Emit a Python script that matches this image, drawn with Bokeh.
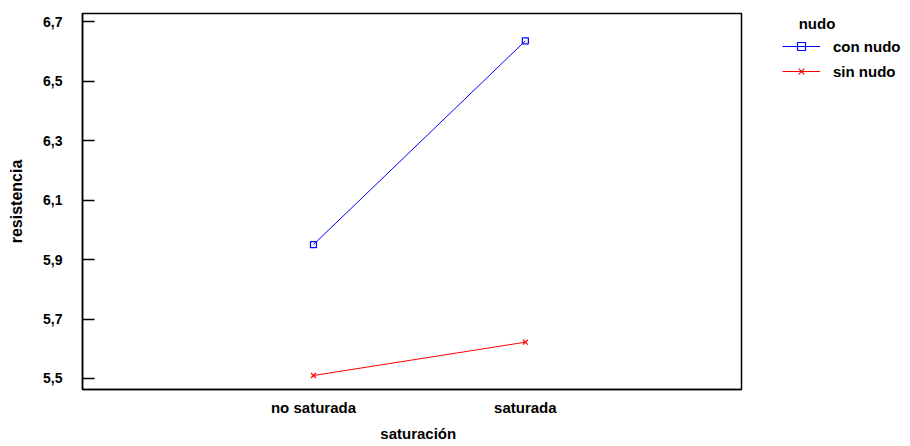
from bokeh.plotting import figure
from bokeh.layouts import row
from bokeh.models import Range1d, FixedTicker, Legend, LegendItem
from bokeh.embed import file_html
from bokeh.resources import INLINE

categories = ["no saturada", "saturada"]
x_pos = [1, 2]
con_nudo = [5.95, 6.635]
sin_nudo = [5.51, 5.622]
y_ticks = [5.5, 5.7, 5.9, 6.1, 6.3, 6.5, 6.7]
y_tick_labels = ["5,5", "5,7", "5,9", "6,1", "6,3", "6,5", "6,7"]
series_names = ["con nudo", "sin nudo"]
legend_title = "nudo"

FONT = "Liberation Sans"

p = figure(frame_width=659, frame_height=376, output_backend="svg", toolbar_location=None,
           x_range=Range1d(-0.09, 3.02), y_range=Range1d(5.463, 6.727),
           min_border_left=82, min_border_top=13, min_border_right=20,
           min_border_bottom=57)

p.grid.visible = False
p.outline_line_color = "black"
p.outline_line_width = 1.5
p.background_fill_color = "white"
p.border_fill_color = "white"

p.line(x_pos, con_nudo, line_color="blue", line_width=1)
p.scatter(x_pos, con_nudo, marker="square", size=6, line_color="blue",
          fill_color=None, line_width=1.2)
p.line(x_pos, sin_nudo, line_color="red", line_width=1)
p.scatter(x_pos, sin_nudo, marker="x", size=7, line_color="red", line_width=1.2)

# axes
for ax in (p.xaxis, p.yaxis):
    ax.axis_line_color = "black"
    ax.major_tick_line_color = "black"
    ax.major_label_text_color = "black"
    ax.axis_label_text_color = "black"
    ax.minor_tick_line_color = None

p.yaxis.ticker = FixedTicker(ticks=y_ticks)
p.yaxis.major_label_overrides = {t: l for t, l in zip(y_ticks, y_tick_labels)}
p.yaxis.major_tick_in = 12
p.yaxis.major_tick_out = 0
p.yaxis.axis_line_width = 1.5
p.yaxis.major_tick_line_width = 1.5
p.yaxis.major_label_text_font = FONT
p.yaxis.major_label_text_font_style = "bold"
p.yaxis.major_label_text_font_size = "14px"
p.yaxis.major_label_standoff = 20
p.yaxis.axis_label = "resistencia"
p.yaxis.axis_label_text_font = FONT
p.yaxis.axis_label_text_font_style = "bold"
p.yaxis.axis_label_text_font_size = "16px"
p.yaxis.axis_label_standoff = 15

p.xaxis.ticker = FixedTicker(ticks=x_pos)
p.xaxis.major_label_overrides = {x: c for x, c in zip(x_pos, categories)}
p.xaxis.major_tick_in = 0
p.xaxis.major_tick_out = 0
p.xaxis.axis_line_width = 1.5
p.xaxis.major_label_text_font = FONT
p.xaxis.major_label_text_font_style = "bold"
p.xaxis.major_label_text_font_size = "15px"
p.xaxis.major_label_standoff = 9
p.xaxis.axis_label = "\u00a0\u00a0\u00a0saturación"
p.xaxis.axis_label_text_font = FONT
p.xaxis.axis_label_text_font_style = "bold"
p.xaxis.axis_label_text_font_size = "15px"
p.xaxis.axis_label_standoff = 6

# legend panel (series drawn out of its visible range, only the legend shows)
p2 = figure(width=149, height=446, output_backend="svg", toolbar_location=None,
            x_range=Range1d(0, 1), y_range=Range1d(0, 1),
            x_axis_type=None, y_axis_type=None,
            min_border_left=0, min_border_right=0, min_border_top=0, min_border_bottom=0)
p2.grid.visible = False
p2.outline_line_color = None
p2.background_fill_color = "white"
p2.border_fill_color = "white"

l1 = p2.line(x_pos, con_nudo, line_color="blue", line_width=1)
m1 = p2.scatter(x_pos, con_nudo, marker="square", size=6, line_color="blue",
                fill_color=None, line_width=1.2)
l2 = p2.line(x_pos, sin_nudo, line_color="red", line_width=1)
m2 = p2.scatter(x_pos, sin_nudo, marker="x", size=7, line_color="red", line_width=1.2)

legend = Legend(items=[LegendItem(label=series_names[0], renderers=[l1, m1]),
                       LegendItem(label=series_names[1], renderers=[l2, m2])],
                title="\u00a0\u00a0\u00a0\u00a0" + legend_title, location=(21, 308))
legend.title_text_font = FONT
legend.title_text_font_style = "bold"
legend.title_text_font_size = "15px"
legend.title_text_color = "black"
legend.label_text_font = FONT
legend.label_text_font_style = "bold"
legend.label_text_font_size = "15px"
legend.label_text_color = "black"
legend.border_line_color = None
legend.background_fill_alpha = 0
legend.glyph_width = 38
legend.glyph_height = 20
legend.label_height = 20
legend.spacing = 5
legend.padding = 0
legend.margin = 0
legend.label_standoff = 13
legend.title_standoff = 4
legend.title_text_line_height = 1.0
p2.add_layout(legend, "center")

open("out.html", "w").write(file_html(row(p, p2), INLINE))
